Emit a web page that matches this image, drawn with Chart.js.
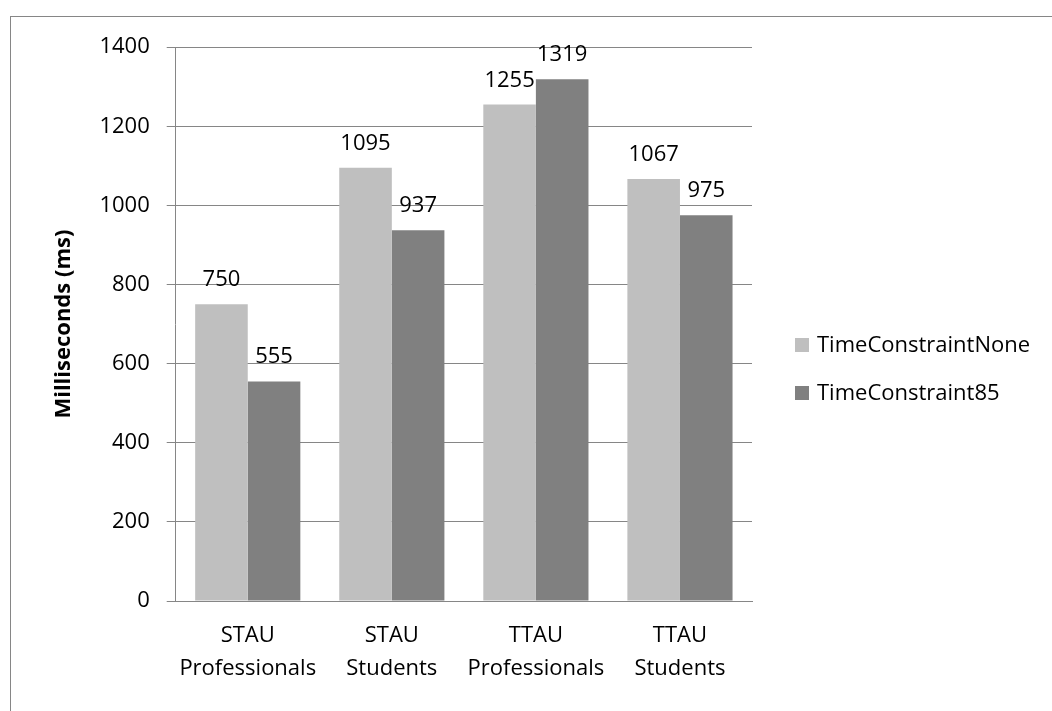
<!DOCTYPE html>
<html>
<head>
<meta charset="utf-8">
<script src="https://cdn.jsdelivr.net/npm/chart.js@4.4.1/dist/chart.umd.min.js"></script>
<style>
  html, body { margin: 0; padding: 0; background: #ffffff; overflow: hidden; }
  #frame { position: absolute; left: 10px; top: 16px; width: 1042px; height: 695px;
           border-left: 1px solid #868686; border-top: 1px solid #868686; background: #fff; }
  canvas { display: block; }
</style>
</head>
<body>
<div id="frame"><canvas id="c" width="1041" height="694"></canvas></div>
<script>
const categories = [["STAU", "Professionals"], ["STAU", "Students"], ["TTAU", "Professionals"], ["TTAU", "Students"]];
const seriesNames = ["TimeConstraintNone", "TimeConstraint85"];
const timeConstraintNone = [750, 1095, 1255, 1067];
const timeConstraint85 = [555, 937, 1319, 975];
const yTicks = [0, 200, 400, 600, 800, 1000, 1200, 1400];
const yTitle = "Milliseconds (ms)";

const FONT = "'Open Sans', 'DejaVu Sans', sans-serif";
const FS = 22;
const GRID = '#868686';

const valueLabels = {
  id: 'valueLabels',
  afterDatasetsDraw(chart) {
    const ctx = chart.ctx;
    ctx.save();
    ctx.font = FS + 'px ' + FONT;
    ctx.fillStyle = '#000';
    ctx.textAlign = 'center';
    ctx.textBaseline = 'alphabetic';
    chart.data.datasets.forEach((ds, i) => {
      const meta = chart.getDatasetMeta(i);
      meta.data.forEach((el, j) => {
        ctx.fillText(String(ds.data[j]), el.x, el.y - 18);
      });
    });
    ctx.restore();
  }
};

const sideLegend = {
  id: 'sideLegend',
  afterDraw(chart) {
    const ctx = chart.ctx;
    const ca = chart.chartArea;
    ctx.save();
    ctx.font = FS + 'px ' + FONT;
    ctx.textAlign = 'left';
    ctx.textBaseline = 'middle';
    const x0 = ca.right + 43;
    const cy = chart.height / 2 + 5;
    const n = chart.data.datasets.length;
    chart.data.datasets.forEach((ds, i) => {
      const y = cy + (i - (n - 1) / 2) * 48;
      ctx.fillStyle = ds.backgroundColor;
      ctx.fillRect(x0, y - 7, 14, 14);
      ctx.fillStyle = '#000';
      ctx.fillText(ds.label, x0 + 22, y + 1);
    });
    ctx.restore();
  }
};

new Chart(document.getElementById('c'), {
  type: 'bar',
  data: {
    labels: categories,
    datasets: [
      { label: seriesNames[0], data: timeConstraintNone, backgroundColor: '#bfbfbf', borderWidth: 0 },
      { label: seriesNames[1], data: timeConstraint85, backgroundColor: '#808080', borderWidth: 0 }
    ]
  },
  options: {
    responsive: false,
    animation: false,
    events: [],
    layout: { padding: { left: 40, right: 300, top: 28, bottom: 8 } },
    datasets: { bar: { categoryPercentage: 0.73, barPercentage: 1.0 } },
    plugins: { legend: { display: false }, tooltip: { enabled: false } },
    scales: {
      x: {
        grid: { display: false, drawTicks: false },
        border: { display: true, color: GRID, width: 1 },
        ticks: { color: '#000', font: { family: FONT, size: FS, lineHeight: 1.5 }, padding: 18, maxRotation: 0, autoSkip: false }
      },
      y: {
        min: 0, max: 1400,
        afterBuildTicks(scale) { scale.ticks = yTicks.map(v => ({ value: v })); },
        grid: { color: GRID, lineWidth: 1, tickLength: 9, drawTicks: true },
        border: { display: true, color: GRID, width: 1 },
        ticks: { color: '#000', font: { family: FONT, size: FS }, padding: 17, callback: v => String(v) },
        title: { display: true, text: yTitle, color: '#000', font: { family: FONT, size: FS, weight: 'bold', lineHeight: 1.2 }, padding: { top: 0, bottom: 5 } }
      }
    }
  },
  plugins: [valueLabels, sideLegend]
});
</script>
</body>
</html>
